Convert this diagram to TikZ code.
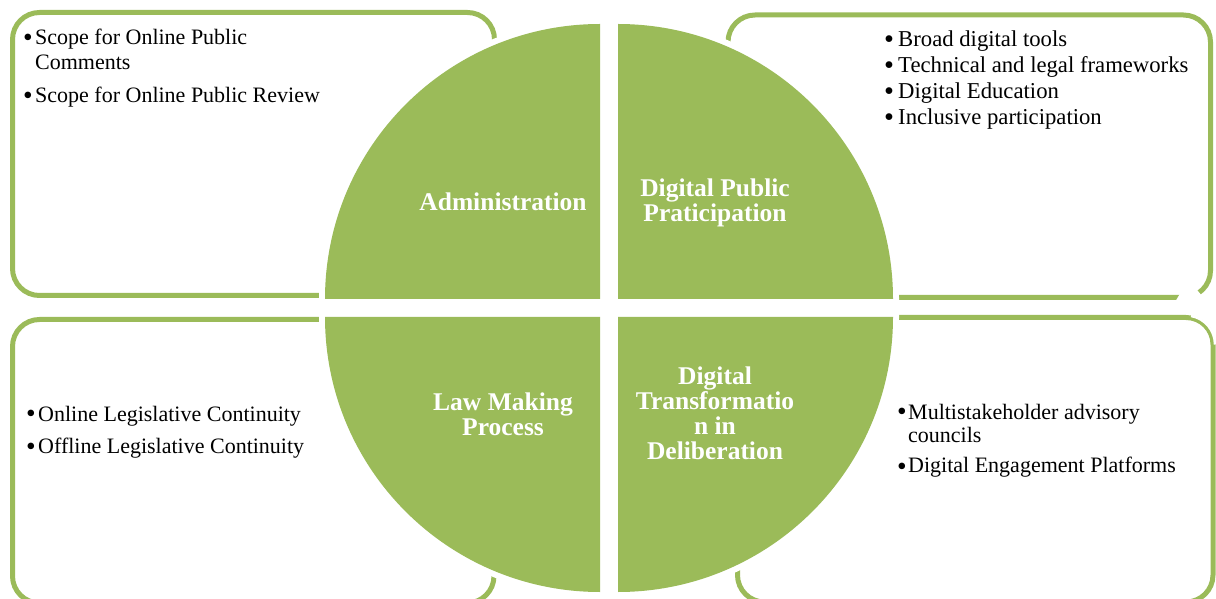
\documentclass[tikz,border=0pt]{standalone}
\usepackage{fontspec}
\usepackage{graphicx}
\setmainfont{Liberation Serif}
\definecolor{leaf}{HTML}{9BBB59}
\tikzset{
  panel/.style={draw=leaf, line width=5pt, rounded corners=27pt},
  wedge/.style={fill=leaf, preaction={draw=white, line width=12pt}},
  notes/.style={anchor=base west, inner sep=0pt, text=black},
  title/.style={text=white, align=center, inner sep=0pt,
    font=\fontsize{25.5}{25}\selectfont\bfseries},
}
% bullet set in a box of fixed width
\newcommand{\blt}[1][12pt]{\makebox[#1][l]{\raisebox{-2pt}{\scalebox{1.25}{\textbullet}}}}
\begin{document}
\begin{tikzpicture}[x=1pt,y=1pt]
  \useasboundingbox (0,0) rectangle (1216,598);
  \clip (0,0) rectangle (1216,598);

  % corner panels
  \draw[panel] (12.5,302.5) rectangle (494.5,585.5);
  \draw[panel] (728,300.5) rectangle (1210.5,583);
  \draw[panel] (12.5,-5) rectangle (494,278.5);
  \draw[panel] (737.5,-4) rectangle (1213,280.5);

  % small white cuts at the right-hand corners
  \fill[white] (1175,296) -- (1181,306) -- (1197,308) -- (1203,301) -- (1196,295) -- cycle;
  \draw[white, line width=2.5pt] (1186,253.5) ++(80:29) arc[start angle=80, end angle=0, radius=29pt];

  % four quarter discs
  \path[wedge] (600,299) -- (325,299) arc[start angle=180, end angle=90, radius=275pt] -- cycle;
  \path[wedge] (618,299) -- (618,574) arc[start angle=90, end angle=0, radius=275pt] -- cycle;
  \path[wedge] (600,281) -- (325,281) arc[start angle=180, end angle=270, radius=275pt] -- cycle;
  \path[wedge] (618,281) -- (893,281) arc[start angle=0, end angle=-90, radius=275pt] -- cycle;

  % titles of the quarters
  \node[title] (adm) at (503,396) {Administration};
  \node[title] (dpp) at (715,395.5) {Digital Public\\Praticipation};
  \node[title] (lmp) at (503,184) {Law Making\\Process};
  \node[title] (dtd) at (715,184.5) {Digital\\Transformatio\\n in\\Deliberation};

  % panel texts
  \node[notes, font=\fontsize{22}{25}\selectfont] (tl) at (23,553) {%
    \begin{tabular}[t]{@{}l@{}l@{}}
      \blt & Scope for Online Public\\
           & Comments\\[8pt]
      \blt & Scope for Online Public Review
    \end{tabular}};
  \node[notes, font=\fontsize{22.7}{26}\selectfont] (tr) at (884,551) {%
    \begin{tabular}[t]{@{}l@{}l@{}}
      \blt[14pt] & Broad digital tools\\
      \blt[14pt] & Technical and legal frameworks\\
      \blt[14pt] & Digital Education\\
      \blt[14pt] & Inclusive participation
    \end{tabular}};
  \node[notes, font=\fontsize{22}{25}\selectfont] (bl) at (26,177) {%
    \begin{tabular}[t]{@{}l@{}l@{}}
      \blt & Online Legislative Continuity\\[7pt]
      \blt & Offline Legislative Continuity
    \end{tabular}};
  \node[notes, font=\fontsize{22}{24}\selectfont] (br) at (897,179) {%
    \begin{tabular}[t]{@{}l@{}l@{}}
      \blt[11pt] & Multistakeholder advisory\\
                 & councils\\[6pt]
      \blt[11pt] & Digital Engagement Platforms
    \end{tabular}};
\end{tikzpicture}
\end{document}
